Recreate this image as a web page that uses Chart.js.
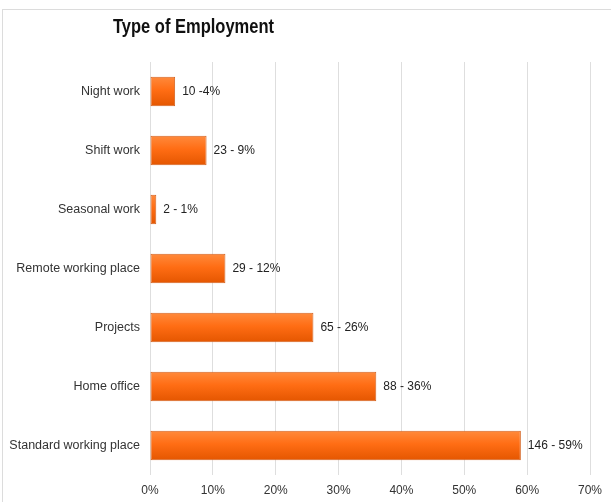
<!DOCTYPE html>
<html>
<head>
<meta charset="utf-8">
<script src="https://cdn.jsdelivr.net/npm/chart.js@4.4.1/dist/chart.umd.min.js"></script>
<style>
  html, body { margin: 0; padding: 0; background: #fff; }
  #wrap { position: relative; width: 611px; height: 502px; overflow: hidden; }
  #frame { position: absolute; left: 2px; top: 9px; width: 700px; height: 600px;
           border-left: 1px solid #dcdcdc; border-top: 1px solid #dcdcdc; pointer-events: none; }
  canvas { position: absolute; left: 0; top: 0; }
</style>
</head>
<body>
<div id="wrap">
  <canvas id="chart" width="611" height="502"></canvas>
  <div id="frame"></div>
</div>
<script>
// Survey answers: respondents per type of employment and share of all respondents
const categories = ['Night work', 'Shift work', 'Seasonal work', 'Remote working place', 'Projects', 'Home office', 'Standard working place'];
const counts = [10, 23, 2, 29, 65, 88, 146];
const percents = [4, 9, 1, 12, 26, 36, 59];
const valueLabels = ['10 -4%', '23 - 9%', '2 - 1%', '29 - 12%', '65 - 26%', '88 - 36%', '146 - 59%'];
const axisTicks = [0, 10, 20, 30, 40, 50, 60, 70];
const chartTitle = 'Type of Employment';

const BASE_FONT = "'Liberation Sans', Arial, sans-serif";
const SOLID = '#f8680f';

// Vertical orange gradient across each bar's thickness
function barFill(c) {
  const chart = c.chart;
  const ys = chart.scales && chart.scales.y;
  if (!ys || c.type !== 'data') return SOLID;
  const center = ys.getPixelForValue(c.dataIndex);
  const half = (ys.height / categories.length) * 0.5 / 2;
  if (!isFinite(center) || !isFinite(half) || half <= 0) return SOLID;
  const g = chart.ctx.createLinearGradient(0, center - half, 0, center + half);
  g.addColorStop(0, '#ff8a3c');
  g.addColorStop(0.45, '#ff6d14');
  g.addColorStop(1, '#e45600');
  return g;
}

// Condensed bold title, left of the plot's centre
const titlePlugin = {
  id: 'leftTitle',
  afterDraw(chart) {
    const ctx = chart.ctx;
    const x = chart.chartArea.left - 37;
    const targetWidth = 161;
    ctx.save();
    ctx.fillStyle = '#111';
    ctx.font = "bold 20px 'Liberation Sans Narrow', 'Arial Narrow', " + BASE_FONT;
    ctx.textAlign = 'left';
    ctx.textBaseline = 'alphabetic';
    const w = ctx.measureText(chartTitle).width;
    const sx = w > targetWidth ? targetWidth / w : 1;
    ctx.translate(x, 33);
    ctx.scale(sx, 1);
    ctx.fillText(chartTitle, 0, 0);
    ctx.restore();
  }
};

const valueLabelPlugin = {
  id: 'valueLabels',
  afterDatasetsDraw(chart) {
    const ctx = chart.ctx;
    const meta = chart.getDatasetMeta(0);
    ctx.save();
    ctx.fillStyle = '#222';
    ctx.font = '12px ' + BASE_FONT;
    ctx.textAlign = 'left';
    ctx.textBaseline = 'middle';
    meta.data.forEach((bar, i) => {
      ctx.fillText(valueLabels[i], bar.x + 7, bar.y);
    });
    ctx.restore();
  }
};

new Chart(document.getElementById('chart'), {
  type: 'bar',
  data: {
    labels: categories,
    datasets: [{
      data: percents,
      backgroundColor: barFill,
      borderColor: '#d4621f',
      borderWidth: 1,
      borderSkipped: false,
      categoryPercentage: 1,
      barPercentage: 0.5
    }]
  },
  options: {
    indexAxis: 'y',
    responsive: false,
    animation: false,
    events: [],
    layout: { padding: { top: 62, right: 21, left: 0, bottom: 0 } },
    plugins: {
      legend: { display: false },
      title: { display: false },
      tooltip: { enabled: false }
    },
    scales: {
      x: {
        type: 'linear',
        min: axisTicks[0],
        max: axisTicks[axisTicks.length - 1],
        afterBuildTicks(scale) { scale.ticks = axisTicks.map(v => ({ value: v })); },
        afterFit(scale) { scale.height = 27; },
        grid: { color: '#dedede', lineWidth: 1, drawTicks: false },
        border: { display: false },
        ticks: {
          padding: 8,
          color: '#333',
          font: { family: BASE_FONT, size: 12 },
          callback: v => v + '%'
        }
      },
      y: {
        type: 'category',
        afterFit(scale) { scale.width = 150; },
        grid: { display: false, drawTicks: false },
        border: { display: false },
        ticks: {
          padding: 10,
          color: '#333',
          font: { family: BASE_FONT, size: 12.5 }
        }
      }
    }
  },
  plugins: [titlePlugin, valueLabelPlugin]
});
</script>
</body>
</html>
